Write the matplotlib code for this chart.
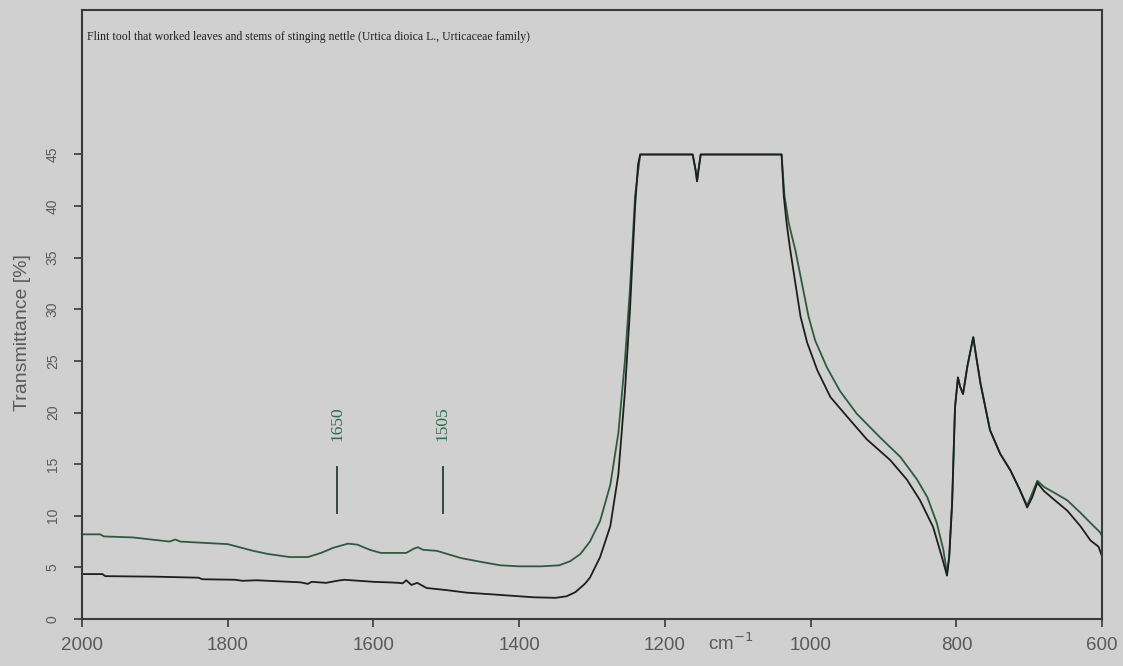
import matplotlib.pyplot as plt
import numpy as np

# spectrum of the used edge (upper trace) and the reference trace (lower)
used_wn = [2000, 1975, 1970, 1930, 1880, 1872, 1865, 1800, 1765, 1745, 1715, 1690,
           1672, 1655, 1635, 1622, 1605, 1590, 1555, 1545, 1539, 1532, 1513, 1480,
           1450, 1426, 1400, 1370, 1345, 1330, 1316, 1303, 1289, 1275, 1264, 1255,
           1248, 1241, 1234, 1162, 1158, 1156, 1154, 1151, 1040, 1036, 1030, 1021,
           1012, 1003, 994, 978, 960, 937, 905, 877, 854, 840, 827, 818, 813, 810,
           806, 802, 798, 795, 791, 785, 777, 772, 767, 754, 740, 726, 713, 703,
           696, 689, 680, 665, 648, 630, 616, 603, 600]
used_t = [8.2, 8.2, 8.0, 7.9, 7.5, 7.7, 7.5, 7.25, 6.6, 6.3, 6.0, 6.0,
          6.4, 6.9, 7.3, 7.2, 6.7, 6.4, 6.4, 6.8, 6.95, 6.7, 6.6, 5.9,
          5.5, 5.2, 5.1, 5.1, 5.2, 5.6, 6.3, 7.5, 9.5, 13.0, 18.0, 25.0,
          32.0, 41.0, 45.0, 45.0, 43.5, 42.4, 43.5, 45.0, 45.0, 41.0, 38.3, 35.7,
          32.5, 29.3, 27.0, 24.4, 22.1, 19.9, 17.6, 15.7, 13.5, 11.8, 9.3, 6.7, 4.4, 6.0,
          11.2, 20.5, 23.4, 22.5, 21.8, 24.5, 27.3, 25.0, 22.8, 18.3, 16.0, 14.4, 12.5, 11.0,
          12.2, 13.4, 12.8, 12.2, 11.5, 10.3, 9.3, 8.4, 8.0]

ref_wn = [2000, 1972, 1968, 1900, 1840, 1835, 1790, 1780, 1760, 1700, 1690, 1685,
          1665, 1650, 1640, 1620, 1600, 1580, 1565, 1560, 1555, 1548, 1540, 1527,
          1500, 1472, 1440, 1410, 1380, 1350, 1335, 1323, 1310, 1303, 1289, 1275,
          1264, 1255, 1248, 1241, 1237, 1234, 1162, 1158, 1156, 1154, 1151, 1040,
          1037, 1033, 1028, 1021, 1014, 1005, 991, 973, 950, 923, 891, 868, 850,
          832, 820, 813, 810,
          806, 802, 798, 795, 791, 785, 777, 772, 767, 754, 740, 726, 713, 703,
          696, 689, 680, 665, 648, 630, 616, 605, 600]
ref_t = [4.35, 4.35, 4.15, 4.1, 4.0, 3.85, 3.8, 3.7, 3.75, 3.55, 3.4, 3.6,
         3.5, 3.7, 3.8, 3.7, 3.6, 3.55, 3.5, 3.45, 3.75, 3.3, 3.5, 3.0,
         2.8, 2.55, 2.4, 2.25, 2.1, 2.05, 2.2, 2.6, 3.4, 4.0, 6.0, 9.0,
         14.0, 22.0, 30.0, 40.0, 44.0, 45.0, 45.0, 43.5, 42.4, 43.5, 45.0, 45.0,
         41.0, 38.3, 35.7, 32.5, 29.3, 26.8, 24.1, 21.5, 19.6, 17.4, 15.4, 13.5, 11.5,
         8.9, 6.0, 4.2, 6.0,
         11.2, 20.5, 23.4, 22.5, 21.8, 24.5, 27.3, 25.0, 22.8, 18.3, 16.0, 14.4, 12.5, 10.8,
         11.8, 13.2, 12.4, 11.5, 10.5, 9.0, 7.6, 7.0, 6.0]

peak_wn = [1650, 1505]
peak_labels = ['1650', '1505']

x_ticks = [2000, 1800, 1600, 1400, 1200, 1000, 800, 600]
y_ticks = [0, 5, 10, 15, 20, 25, 30, 35, 40, 45]

bg = '#d0d0d0'
axis_col = '#3a3a3a'
label_col = '#5a5a5a'
green = '#2f5a40'

fig = plt.figure(figsize=(11.23, 6.66), dpi=100, facecolor=bg)
ax = fig.add_axes([0.073, 0.0706, 0.9085, 0.9144], facecolor=bg)

ax.plot(used_wn, used_t, color=green, lw=1.3)
ax.plot(ref_wn, ref_t, color='#1e1e1e', lw=1.3)

# peak markers with rotated labels
for wn, lab in zip(peak_wn, peak_labels):
    ax.plot([wn, wn], [10.3, 14.7], color='#2a3a30', lw=1.3)
    ax.text(wn, 18.9, lab, rotation=90, ha='center', va='center',
            family='Liberation Serif', fontsize=12.5, color='#2e6a50')

ax.set_xlim(2000, 600)
ax.set_ylim(0, 59)
ax.set_xticks(x_ticks)
ax.set_yticks(y_ticks)
ax.set_xticklabels([str(t) for t in x_ticks], family='Liberation Sans',
                   fontsize=13.5, color=label_col)
ax.set_yticklabels([str(t) for t in y_ticks], family='Liberation Sans',
                   fontsize=10, color=label_col, rotation=90, va='center')
ax.tick_params(axis='both', direction='out', length=6, width=1.2, color=axis_col)
ax.tick_params(axis='x', pad=7)
ax.tick_params(axis='y', pad=10)

for s in ax.spines.values():
    s.set_color(axis_col)
    s.set_linewidth(1.5)

ax.set_ylabel('Transmittance [%]', family='Liberation Sans', fontsize=14,
              color=label_col)
ax.yaxis.set_label_coords(-0.05, 0.471)

ax.text(1110, -1.3, 'cm$^{-1}$', ha='center', va='top', fontsize=13.5,
        color=label_col, family='Liberation Sans', transform=ax.transData,
        clip_on=False)

ax.text(0.005, 0.955, 'Flint tool that worked leaves and stems of stinging nettle '
        '(Urtica dioica L., Urticaceae family)', transform=ax.transAxes,
        ha='left', va='center', family='Liberation Serif', fontsize=8.5,
        color='#202020')

fig.savefig('out.png', dpi=100, facecolor=bg)
